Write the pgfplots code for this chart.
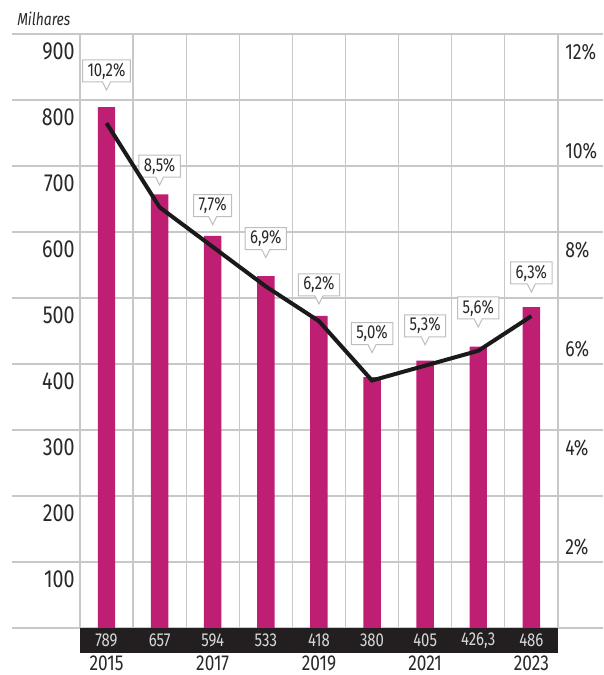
\documentclass[border=0pt]{standalone}
\usepackage{fontspec}
\setmainfont{Fira Sans}[FakeStretch=0.8]
\usepackage{pgfplots}
\pgfplotsset{compat=1.18}
\usetikzlibrary{shapes.callouts}
\definecolor{barc}{RGB}{190,31,115}
\definecolor{gridc}{RGB}{200,200,200}
\definecolor{bandc}{RGB}{35,31,32}
\definecolor{txt}{RGB}{40,40,40}
\definecolor{bandtxt}{RGB}{215,215,215}
\definecolor{callc}{RGB}{190,190,190}
\definecolor{linec}{RGB}{26,26,26}
\begin{document}
\begin{tikzpicture}
\begin{axis}[name=ax, scale only axis, width=443.25pt, height=445.5pt,
  xmin=-1.779, xmax=9.349, ymin=0, ymax=900, clip=false,
  axis line style={draw=none}, major tick length=0pt,
  /pgf/number format/assume math mode=true,
  ytick={100,200,...,900}, ymajorgrids,
  extra y ticks={0}, extra y tick labels={}, extra y tick style={grid=major},
  xtick={0,2,4,6,8}, xticklabels={2015,2017,2019,2021,2023},
  extra x ticks={-0.5,0.5,...,8.5}, extra x tick labels={}, extra x tick style={grid=major},
  grid style={gridc, line width=0.9pt},
  yticklabel style={anchor=east, inner sep=0pt, xshift=47.25pt, yshift=-12.75pt,
    font=\fontsize{18.5}{20}\selectfont, text=txt},
  xticklabel style={anchor=center, inner sep=0pt, yshift=-26.5pt,
    font=\fontsize{16.2}{18}\selectfont, text=txt},
]
\fill[bandc] (axis cs:-0.5,0) rectangle (axis cs:8.5,-38);
\addplot[ybar, bar width=13.1pt, bar shift=0pt, fill=barc, draw=none]
  coordinates {(0,789) (1,657) (2,594) (3,533) (4,473) (5,380) (6,405) (7,426.3) (8,486)};
\addplot[only marks, mark=none, nodes near coords, point meta=explicit symbolic,
  nodes near coords style={anchor=center, inner sep=0pt, text=bandtxt,
    font=\fontsize{14}{15}\selectfont}]
  table[meta=lab] {
x y lab
0 -19 789
1 -19 657
2 -19 594
3 -19 533
4 -19 418
5 -19 380
6 -19 405
7 -19 426,3
8 -19 486
};
\addplot[only marks, mark=none, nodes near coords, point meta=explicit symbolic,
  nodes near coords style={rectangle callout, draw=callc, fill=white, line width=0.75pt,
    callout relative pointer={(270:6pt)}, callout pointer width=6pt,
    anchor=pointer, yshift=-2.25pt, inner xsep=3.75pt, inner ysep=0pt, minimum height=16.5pt,
    text=txt, font=\fontsize{14}{15}\selectfont}]
  table[meta=lab] {
x y lab
0 818 10,2\%
1 674 8,5\%
2 614 7,7\%
3 564 6,9\%
4 494 6,2\%
5 420 5,0\%
6 432 5,3\%
7 459 5,6\%
8 512 6,3\%
};
\end{axis}
\begin{axis}[at={(ax.south west)}, anchor=south west, scale only axis,
  width=443.25pt, height=445.5pt,
  xmin=-1.779, xmax=9.349, ymin=0, ymax=12, clip=false,
  axis line style={draw=none}, major tick length=0pt,
  /pgf/number format/assume math mode=true,
  xtick=\empty, ytick={2,4,...,12}, yticklabel pos=right,
  yticklabel={\pgfmathprintnumber{\tick}\%},
  yticklabel style={anchor=west, inner sep=0pt, xshift=-28.5pt, yshift=-13.5pt,
    font=\fontsize{16.5}{18}\selectfont, text=txt},
]
\addplot[line width=3pt, color=linec]
  coordinates {(0,10.2) (1,8.5) (2,7.7) (3,6.9) (4,6.2) (5,5.0) (6,5.3) (7,5.6) (8,6.3)};
\end{axis}
\node[anchor=west, inner sep=0pt, text=txt, font=\itshape\fontsize{13}{14}\selectfont]
  at ([xshift=3.75pt, yshift=11.25pt]ax.north west) {Milhares};
\pgfresetboundingbox
\path ([xshift=-9pt, yshift=-35.25pt]ax.south west) rectangle ([yshift=25.5pt]ax.north east);
\end{tikzpicture}
\end{document}
